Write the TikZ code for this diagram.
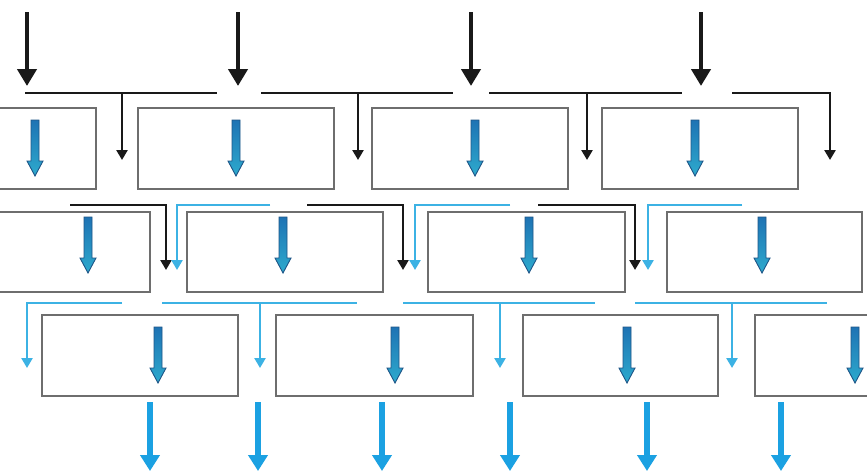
\documentclass[tikz,border=0pt]{standalone}
\usetikzlibrary{arrows.meta,fit}
\definecolor{linek}{RGB}{25,25,25}
\definecolor{boxgray}{RGB}{110,110,110}
\definecolor{thinblue}{RGB}{60,178,228}
\definecolor{outblue}{RGB}{27,161,226}
\definecolor{arrtop}{RGB}{30,115,180}
\definecolor{arrbot}{RGB}{45,170,205}
\definecolor{arredge}{RGB}{30,85,135}
\begin{document}
\begin{tikzpicture}[x=1pt,y=-1pt,
  box/.style={draw=boxgray, line width=2.3pt, inner sep=0pt, fill=none},
  bigarrow/.style={draw=linek, line width=4.6pt, -{Triangle[width=19pt,length=17pt]}},
  kline/.style={draw=linek, line width=2.7pt, -{Triangle[width=11pt,length=10pt]}},
  kbar/.style={draw=linek, line width=2.7pt},
  bline/.style={draw=thinblue, line width=2.5pt, -{Triangle[width=11pt,length=10pt]}},
  bbar/.style={draw=thinblue, line width=2.5pt},
  outarrow/.style={draw=outblue, line width=5.5pt, -{Triangle[width=19pt,length=16pt]}},
  barrow/.pic={\path[draw=arredge, line width=0.9pt, top color=arrtop, bottom color=arrbot]
     (-4,0) -- (4,0) -- (4,41) -- (8,41) -- (0,56) -- (-8,41) -- (-4,41) -- cycle;}
]
\clip (0,0) rectangle (867,472);
\fill[white] (0,0) rectangle (867,472);

% ---- boxes ----
\node[box, fit={(-5,108) (96,189)}] (A) {};
\node[box, fit={(138,108) (334,189)}] (B) {};
\node[box, fit={(372,108) (568,189)}] (C) {};
\node[box, fit={(602,108) (798,189)}] (D) {};
\node[box, fit={(-5,212) (150,292)}] (E) {};
\node[box, fit={(187,212) (383,292)}] (F) {};
\node[box, fit={(428,212) (625,292)}] (G) {};
\node[box, fit={(667,212) (862,292)}] (H) {};
\node[box, fit={(42,315) (238,396)}] (I) {};
\node[box, fit={(276,315) (473,396)}] (J) {};
\node[box, fit={(523,315) (718,396)}] (K) {};
\node[box, fit={(755,315) (885,396)}] (L) {};

% ---- block arrows inside boxes ----
\foreach \x in {35,236,475,695} \pic at (\x,120) {barrow};
\foreach \x in {88,283,529,762} \pic at (\x,217) {barrow};
\foreach \x in {158,395,627,855} \pic at (\x,327) {barrow};

% ---- top input arrows ----
\foreach \x [count=\i] in {27,238,471,701} {
  \coordinate (in\i) at (\x,12);
  \coordinate (ie\i) at (\x,86);
  \draw[bigarrow] (in\i) -- (ie\i);
}

% ---- row 1 black tees ----
\coordinate (k1a) at (25,93);  \coordinate (k1b) at (217,93);
\coordinate (k1t) at (122,93); \coordinate (k1e) at (122,160);
\draw[kbar] (k1a) -- (k1b); \draw[kline] (k1t) -- (k1e);
\coordinate (k2a) at (261,93); \coordinate (k2b) at (453,93);
\coordinate (k2t) at (358,93); \coordinate (k2e) at (358,160);
\draw[kbar] (k2a) -- (k2b); \draw[kline] (k2t) -- (k2e);
\coordinate (k3a) at (489,93); \coordinate (k3b) at (682,93);
\coordinate (k3t) at (587,93); \coordinate (k3e) at (587,160);
\draw[kbar] (k3a) -- (k3b); \draw[kline] (k3t) -- (k3e);
\coordinate (k4a) at (732,93); \coordinate (k4e) at (830,160);
\draw[kline] (k4a) -| (k4e);

% ---- row 2 elbows ----
\foreach \ka/\kx/\ba/\bx [count=\i] in {70/166/270/177, 307/403/510/415, 538/635/742/648} {
  \coordinate (rk\i) at (\ka,205); \coordinate (rke\i) at (\kx,270);
  \coordinate (rb\i) at (\ba,205); \coordinate (rbe\i) at (\bx,270);
  \draw[kline] (rk\i) -| (rke\i);
  \draw[bline] (rb\i) -| (rbe\i);
}

% ---- row 3 blue tees ----
\coordinate (c0a) at (122,303); \coordinate (c0e) at (27,368);
\draw[bline] (c0a) -| (c0e);
\foreach \a/\b/\t [count=\i] in {162/357/260, 403/595/500, 635/827/732} {
  \coordinate (ca\i) at (\a,303); \coordinate (cb\i) at (\b,303);
  \coordinate (ct\i) at (\t,303); \coordinate (ce\i) at (\t,368);
  \draw[bbar] (ca\i) -- (cb\i);
  \draw[bline] (ct\i) -- (ce\i);
}

% ---- bottom output arrows ----
\foreach \x [count=\i] in {150,258,382,510,647,781} {
  \coordinate (os\i) at (\x,402);
  \coordinate (oe\i) at (\x,471);
  \draw[outarrow] (os\i) -- (oe\i);
}
\end{tikzpicture}
\end{document}
